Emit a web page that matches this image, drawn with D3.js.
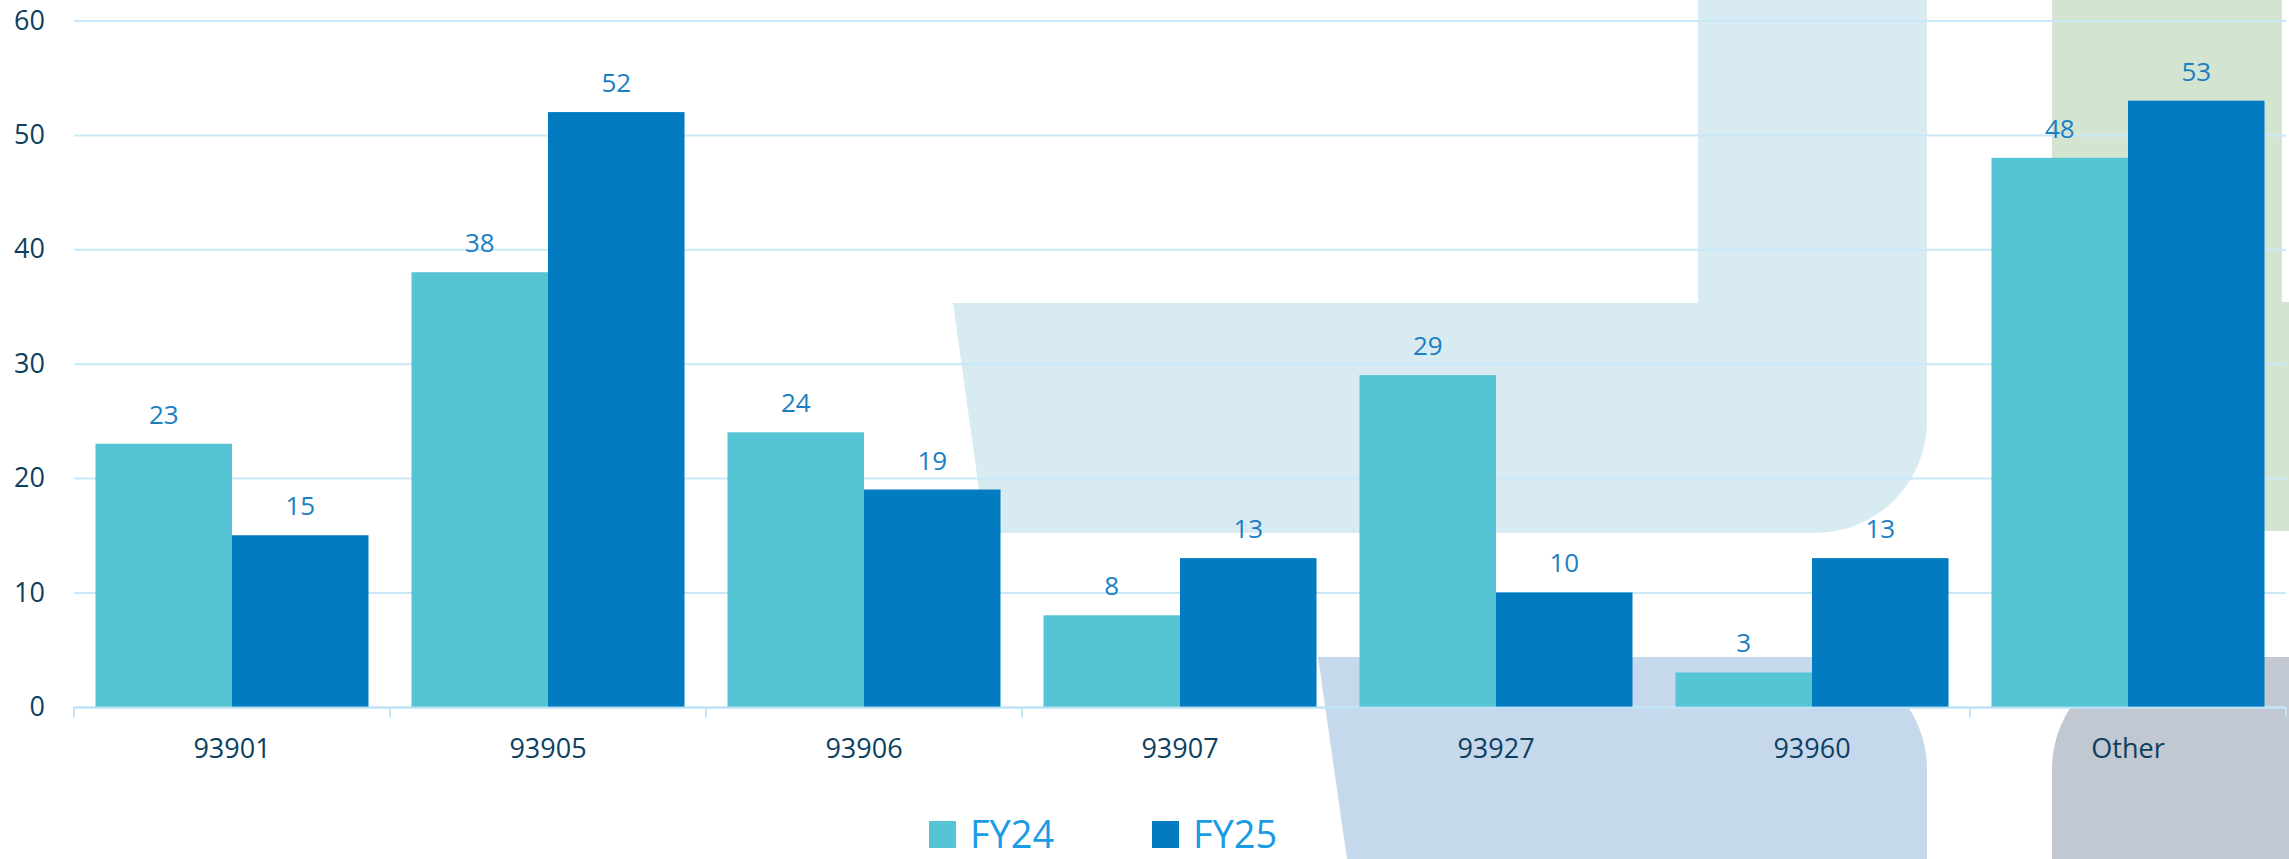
<!DOCTYPE html>
<html>
<head>
<meta charset="utf-8">
<script src="https://cdn.jsdelivr.net/npm/d3@7"></script>
<style>
  html, body { margin: 0; padding: 0; background: #fff; }
  svg { display: block; font-family: "Open Sans", "Noto Sans", sans-serif; }
  svg text { font-family: "Open Sans", "Noto Sans", sans-serif; }
  .tick-label { fill: #0d3f5f; font-size: 27px; }
  .value-label { fill: #1b7fc3; font-size: 26px; }
  .legend-label { fill: #1a9be6; font-size: 38px; }
</style>
</head>
<body>
<svg id="chart"></svg>
<script>
/* ── Data ─────────────────────────────────────────────────────────────── */
const categories = ['93901', '93905', '93906', '93907', '93927', '93960', 'Other'];
const seriesNames = ['FY24', 'FY25'];
const fy24 = [23, 38, 24, 8, 29, 3, 48];
const fy25 = [15, 52, 19, 13, 10, 13, 53];
const yTicks = [0, 10, 20, 30, 40, 50, 60];

/* ── Layout ───────────────────────────────────────────────────────────── */
const W = 2289, H = 859;
const plot = { left: 74, right: 2286, top: 20.6, bottom: 706.8 };
const colors = { FY24: '#55c4d4', FY25: '#037bc0' };

const svg = d3.select('#chart').attr('width', W).attr('height', H);

/* decorative background panels */
const decor = svg.append('g').attr('class', 'decor');
decor.append('path').attr('fill', '#d8ebf2')
  .attr('d', 'M1698,0 H1927 V421 A112,112 0 0 1 1815,533 H985 L953,303 H1698 Z');
decor.append('path').attr('fill', '#d3e4d0')
  .attr('d', 'M2052,0 H2282 V302 H2289 V531 H2052 Z');
decor.append('path').attr('fill', '#c6d9ec')
  .attr('d', 'M1318,657 H1815 A112,112 0 0 1 1927,769 V859 H1347 Z');
decor.append('path').attr('fill', '#c1c8d2')
  .attr('d', 'M2052,859 V769 A112,112 0 0 1 2164,657 H2289 V859 Z');

/* ── Scales ───────────────────────────────────────────────────────────── */
const x0 = d3.scaleBand().domain(categories).range([plot.left, plot.right]).padding(0);
const gap = x0.bandwidth() * 0.068;
const x1 = d3.scaleBand().domain(seriesNames).range([gap, x0.bandwidth() - gap]).padding(0);
const y = d3.scaleLinear().domain([0, 60]).range([plot.bottom, plot.top]);

/* strip the axis defaults so the page font applies */
function plain(g) {
  g.attr('font-family', null).attr('font-size', null);
  g.select('.domain').remove();
  g.selectAll('text').attr('class', 'tick-label').attr('fill', null);
}

/* gridlines */
svg.append('g')
  .attr('transform', `translate(${plot.left},0)`)
  .call(d3.axisLeft(y).tickValues(yTicks).tickSize(-(plot.right - plot.left)).tickFormat(''))
  .call(plain)
  .call(g => g.selectAll('line').attr('stroke', '#c9e8f8').attr('stroke-width', 2));

/* y axis labels */
svg.append('g')
  .attr('transform', `translate(${plot.left},0)`)
  .call(d3.axisLeft(y).tickValues(yTicks).tickSize(0).tickPadding(29))
  .call(plain);

/* ── Bars ─────────────────────────────────────────────────────────────── */
const rows = categories.map((c, i) => ({ cat: c, values: [
  { key: 'FY24', v: fy24[i] },
  { key: 'FY25', v: fy25[i] },
] }));

const groups = svg.append('g').selectAll('g')
  .data(rows).join('g')
  .attr('transform', d => `translate(${x0(d.cat)},0)`);

groups.selectAll('rect')
  .data(d => d.values).join('rect')
  .attr('x', d => x1(d.key))
  .attr('y', d => y(d.v))
  .attr('width', x1.bandwidth())
  .attr('height', d => y(0) - y(d.v))
  .attr('fill', d => colors[d.key]);

groups.selectAll('text')
  .data(d => d.values).join('text')
  .attr('class', 'value-label')
  .attr('text-anchor', 'middle')
  .attr('x', d => x1(d.key) + x1.bandwidth() / 2)
  .attr('y', d => y(d.v) - 20)
  .text(d => d.v);

/* ── X axis ───────────────────────────────────────────────────────────── */
const xAxis = svg.append('g').attr('transform', `translate(0,${plot.bottom})`);
xAxis.call(d3.axisBottom(x0).tickSize(0).tickPadding(0))
  .call(plain)
  .call(g => g.selectAll('text').attr('y', 51).attr('dy', null));

xAxis.append('line')
  .attr('x1', plot.left).attr('x2', plot.right)
  .attr('y1', 1).attr('y2', 1)
  .attr('stroke', '#bfe3f6').attr('stroke-width', 2);

const edges = categories.map(c => x0(c)).concat([plot.right]);
xAxis.selectAll('.edge-tick')
  .data(edges).join('line')
  .attr('class', 'edge-tick')
  .attr('x1', d => d).attr('x2', d => d)
  .attr('y1', 0).attr('y2', 10)
  .attr('stroke', '#bfe3f6').attr('stroke-width', 2);

/* ── Legend ───────────────────────────────────────────────────────────── */
const legendX = [929, 1152];
const legend = svg.append('g').selectAll('g')
  .data(seriesNames).join('g')
  .attr('transform', (d, i) => `translate(${legendX[i]},821)`);

legend.append('rect')
  .attr('width', 27).attr('height', 27)
  .attr('fill', d => colors[d]);

legend.append('text')
  .attr('class', 'legend-label')
  .attr('x', 41).attr('y', 26.5)
  .text(d => d);
</script>
</body>
</html>
